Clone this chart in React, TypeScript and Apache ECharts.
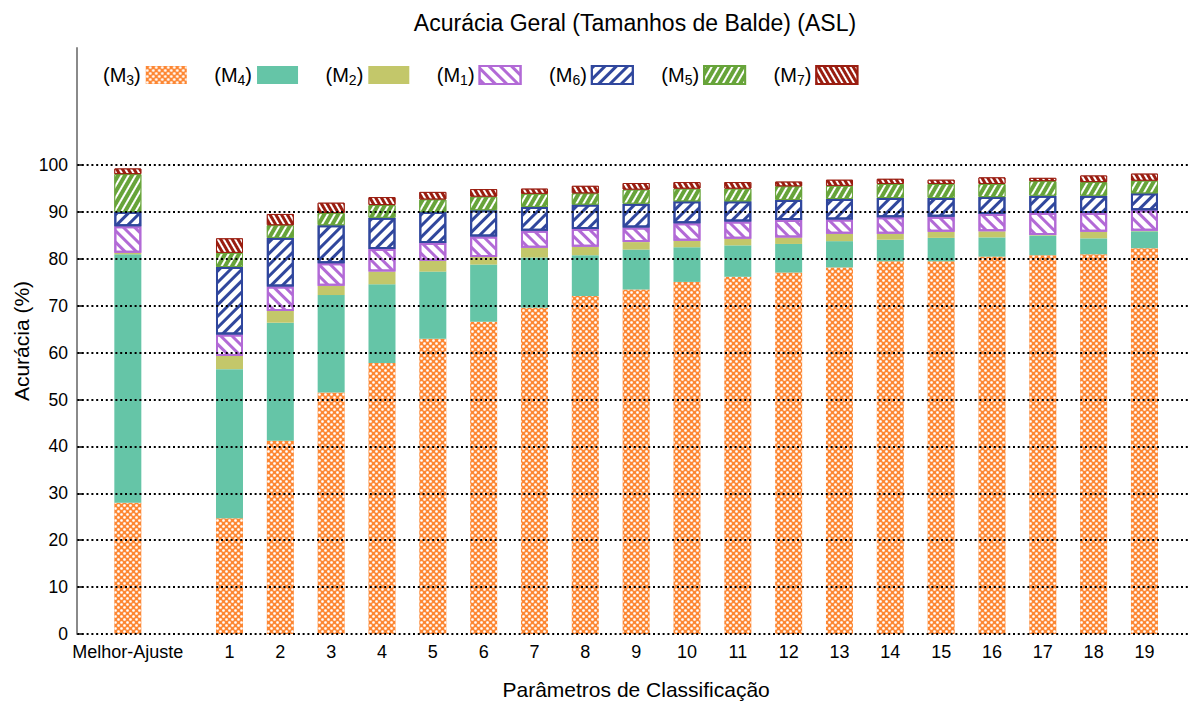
import React, { useEffect, useRef } from 'react';
import * as echarts from 'echarts';

const FONT = '"Liberation Sans", Arial, Helvetica, sans-serif';

// Category labels (bars), in drawing order
const categories = ['Melhor-Ajuste', '1', '2', '3', '4', '5', '6', '7', '8', '9', '10', '11', '12', '13', '14', '15', '16', '17', '18', '19'];

// Series (stack order bottom -> top)
const seriesNames = ['M3', 'M4', 'M2', 'M1', 'M6', 'M5', 'M7'];
const m3 = [28.0, 24.7, 41.2, 51.5, 57.8, 63.0, 66.6, 69.6, 72.1, 73.5, 75.1, 76.2, 77.1, 78.2, 79.5, 79.5, 80.5, 80.8, 81.0, 82.3];
const m4 = [53.0, 31.8, 25.2, 20.8, 16.8, 14.3, 12.2, 10.7, 8.7, 8.5, 7.4, 6.7, 6.1, 5.6, 4.6, 5.0, 4.1, 4.2, 3.4, 3.6];
const m2 = [0.3, 2.8, 2.5, 2.0, 2.7, 2.3, 1.6, 2.1, 1.8, 1.6, 1.4, 1.4, 1.4, 1.6, 1.3, 1.3, 1.3, 0.1, 1.4, 0.1];
const m1 = [5.7, 4.6, 5.2, 4.8, 4.8, 3.8, 4.4, 3.6, 3.8, 3.1, 3.7, 3.7, 3.7, 3.0, 3.5, 3.2, 3.7, 4.7, 4.0, 4.4];
const m6 = [3.0, 14.4, 10.4, 8.1, 6.7, 6.6, 5.6, 5.1, 5.2, 5.1, 4.7, 4.3, 4.3, 4.4, 4.1, 4.0, 3.6, 3.7, 3.7, 3.6];
const m5 = [8.1, 3.0, 2.7, 2.6, 2.7, 2.7, 2.9, 2.8, 2.4, 3.0, 2.7, 2.7, 2.9, 2.8, 3.0, 3.0, 2.8, 3.1, 2.9, 2.7];
const m7 = [1.2, 3.1, 2.4, 2.2, 1.7, 1.6, 1.6, 1.1, 1.6, 1.4, 1.4, 1.4, 1.0, 1.3, 1.1, 0.9, 1.4, 0.7, 1.4, 1.5];
const seriesValues = [m3, m4, m2, m1, m6, m5, m7];

const yTicks = [0, 10, 20, 30, 40, 50, 60, 70, 80, 90, 100];

// Axis slots: blank padding slot, Melhor-Ajuste, blank gap slot, 1..19, blank padding slot
const BLANK_START = ' ';
const BLANK_GAP = '  ';
const BLANK_END = '   ';
const axisSlots = [BLANK_START, categories[0], BLANK_GAP, ...categories.slice(1), BLANK_END];

const styles: Record<string, any> = {
  M3: {
    color: '#fd8733',
    decal: {
      symbol: 'circle', symbolSize: 0.9, color: '#ffffff',
      dashArrayX: [[2.7, 2.7], [0, 2.7, 2.7, 0]], dashArrayY: [2.6, 0],
    },
  },
  M4: { color: '#65c5a7' },
  M2: { color: '#c3c76a' },
  M1: {
    color: '#ffffff', borderColor: '#b26ad6', borderWidth: 2,
    decal: { symbol: 'rect', symbolSize: 1, color: '#b26ad6', dashArrayX: [1, 0], dashArrayY: [2.5, 4.5], rotation: Math.PI / 4 },
  },
  M6: {
    color: '#ffffff', borderColor: '#30479d', borderWidth: 2,
    decal: { symbol: 'rect', symbolSize: 1, color: '#30479d', dashArrayX: [1, 0], dashArrayY: [2.5, 4.5], rotation: -Math.PI / 4 },
  },
  M5: {
    color: '#67a43a', borderColor: '#67a43a', borderWidth: 1,
    decal: { symbol: 'rect', symbolSize: 1, color: '#ffffff', dashArrayX: [1, 0], dashArrayY: [1.2, 3.2], rotation: -Math.PI / 3 },
  },
  M7: {
    color: '#9a1d10', borderColor: '#9a1d10', borderWidth: 1,
    decal: { symbol: 'rect', symbolSize: 1, color: '#ffffff', dashArrayX: [1, 0], dashArrayY: [1.2, 3], rotation: Math.PI / 3 },
  },
};

export default function App() {
  const ref = useRef<HTMLDivElement>(null);

  useEffect(() => {
    if (!ref.current) return;
    const chart = echarts.init(ref.current, null, { renderer: 'svg' });

    const series = seriesNames.map((name, i) => ({
      name,
      type: 'bar',
      stack: 'total',
      barWidth: 27,
      data: axisSlots.map((slot) => {
        const idx = categories.indexOf(slot);
        return idx >= 0 ? seriesValues[i][idx] : '-';
      }),
      itemStyle: styles[name],
      emphasis: { disabled: true },
    }));

    chart.setOption({
      animation: false,
      textStyle: { fontFamily: FONT },
      title: {
        text: 'Acurácia Geral (Tamanhos de Balde) (ASL)',
        left: 630,
        top: 6,
        textAlign: 'center',
        textStyle: { fontFamily: FONT, fontSize: 23, fontWeight: 'normal', color: '#000' },
      },
      legend: {
        data: seriesNames,
        left: 98,
        top: 58,
        icon: 'rect',
        align: 'right',
        itemWidth: 41,
        itemHeight: 18,
        itemGap: 27.5,
        formatter: (name: string) => `(M{s|${name.slice(1)}})`,
        textStyle: {
          fontFamily: FONT, fontSize: 20, color: '#000', lineHeight: 24,
          rich: { s: { fontFamily: FONT, fontSize: 14, lineHeight: 14, verticalAlign: 'bottom', color: '#000' } },
        },
      },
      grid: { left: 77, right: -6.3, top: 48, bottom: 70, containLabel: false, outerBoundsMode: 'none' },
      xAxis: {
        type: 'category',
        data: axisSlots,
        boundaryGap: false,
        axisLine: { show: false },
        axisTick: { show: false },
        splitLine: { show: false },
        axisLabel: { interval: 0, fontFamily: FONT, fontSize: 18, color: '#000', margin: 9 },
        name: 'Parâmetros de Classificação',
        nameLocation: 'middle',
        nameGap: 45,
        nameTextStyle: { fontFamily: FONT, fontSize: 21, color: '#000' },
      },
      yAxis: {
        type: 'value',
        min: 0,
        max: 125,
        interval: 10,
        z: 10,
        axisLine: { show: true, onZero: false, lineStyle: { color: '#8a8a8a', width: 2 } },
        axisTick: { show: true, inside: true, length: 5, customValues: yTicks, lineStyle: { color: '#000', width: 1.5 } },
        axisLabel: { customValues: yTicks, fontFamily: FONT, fontSize: 17.5, color: '#000', margin: 9 },
        splitLine: { show: true, lineStyle: { color: '#000', width: 2, type: [2, 2.8] } },
      },
      graphic: [
        {
          type: 'text',
          x: 21,
          y: 341,
          rotation: Math.PI / 2,
          style: {
            text: 'Acurácia (%)',
            fontFamily: FONT,
            fontSize: 21,
            fill: '#000',
            align: 'center',
            verticalAlign: 'middle',
          },
        },
      ],
      series,
    });

    return () => chart.dispose();
  }, []);

  return (
    <div
      ref={ref}
      style={{ position: 'fixed', left: 0, top: 0, width: 1189, height: 704, background: '#fff' }}
    />
  );
}
